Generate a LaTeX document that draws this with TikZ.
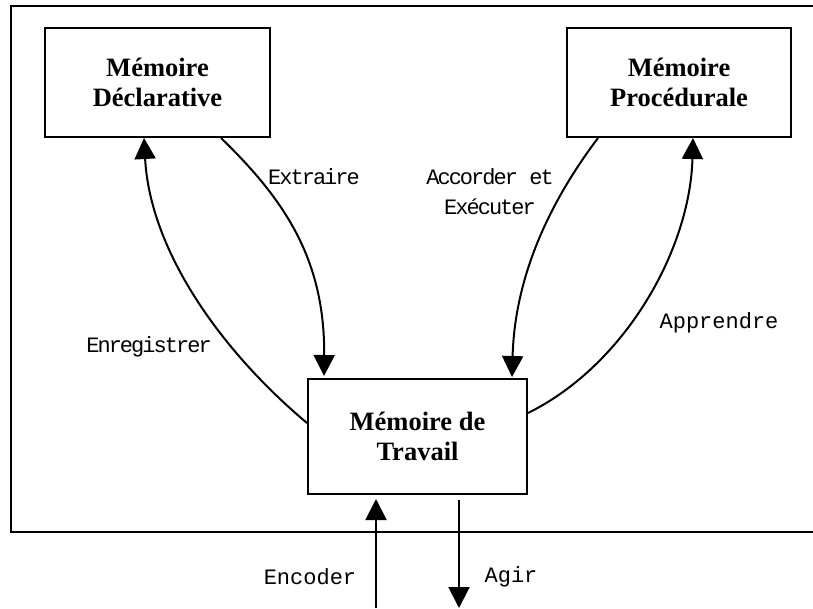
\documentclass[tikz,border=0pt]{standalone}
\usepackage{fontspec}
\setmainfont{Liberation Serif}
\newfontfamily\labelfont{Liberation Mono}
\newfontfamily\tightfont[LetterSpace=-9]{Liberation Mono}
\usetikzlibrary{arrows.meta}
\tikzset{
  memoire/.style={draw,line width=2pt,inner sep=0pt,align=center,
    font=\fontsize{26.5}{30}\selectfont\bfseries},
  lien/.style={line width=2pt,-{Triangle[length=21pt,width=21pt]}},
  etiq/.style={align=center,font=\fontsize{22}{30}\labelfont},
  etiqserre/.style={align=center,font=\fontsize{22}{30}\tightfont}
}

\begin{document}
\begin{tikzpicture}[x=1pt,y=-1pt]
\useasboundingbox (0,0) rectangle (813,608);
\draw[line width=2.2pt] (813,6) -- (11,6) -- (11,532) -- (813,532);

\node[memoire,minimum width=225pt,minimum height=109pt] (decl) at (157.5,82.5) {Mémoire\\Déclarative};
\node[memoire,minimum width=224pt,minimum height=109pt] (proc) at (679,82.5) {Mémoire\\Procédurale};
\node[memoire,minimum width=219pt,minimum height=115pt] (trav) at (417.5,436.5) {Mémoire de\\Travail};

\draw[lien] ([xshift=63.5pt]decl.south) .. controls (285,200) and (325,260) .. ([xshift=-93.5pt,yshift=2pt]trav.north);
\draw[lien] ([yshift=13.5pt]trav.west) .. controls (220,350) and (150,250) .. ([xshift=-13.5pt]decl.south);
\draw[lien] ([xshift=-81pt]proc.south) .. controls (555,195) and (515,270) .. ([xshift=94.5pt,yshift=1pt]trav.north);
\draw[lien] ([yshift=23.5pt]trav.east) .. controls (625,365) and (690,250) .. ([xshift=14pt]proc.south);

\coordinate (entree) at (376,608);
\coordinate (sortie) at (459,608);
\draw[lien] (entree) -- ([xshift=-41.5pt,yshift=-4pt]trav.south);
\draw[lien] ([xshift=41.5pt,yshift=-5pt]trav.south) -- (sortie);

\node[etiqserre] (extraire) at (314,177) {Extraire};
\node[etiqserre] (accorder) at (490,192) {Accorder et\\Exécuter};
\node[etiqserre] (enreg) at (149,347) {Enregistrer};
\node[etiq] (apprendre) at (719,323) {Apprendre};
\node[etiq] (encoder) at (310,577) {Encoder};
\node[etiq] (agir) at (511,577) {Agir};
\end{tikzpicture}
\end{document}
